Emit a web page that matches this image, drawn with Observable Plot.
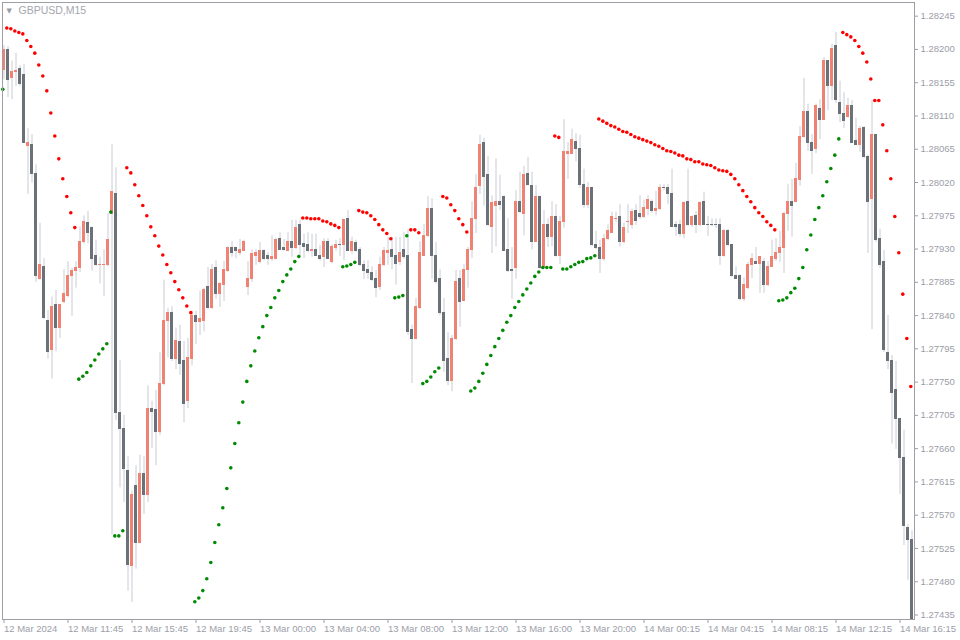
<!DOCTYPE html>
<html><head><meta charset="utf-8">
<script src="https://cdn.jsdelivr.net/npm/d3@7"></script>
<script src="https://cdn.jsdelivr.net/npm/@observablehq/plot@0.6"></script>
<style>
html,body{margin:0;padding:0;background:#ffffff;}
#chart{width:960px;height:640px;overflow:hidden;}
</style></head><body><div id="chart"></div>
<script>
const symbol = "GBPUSD,M15";

const open = [
1.28172,1.28199,1.28161,1.28169,1.28173,1.28166,1.28070,1.28071,1.28031,1.27890,
1.27906,1.27833,1.27794,1.27854,1.27823,1.27858,1.27866,1.27893,1.27900,1.27904,
1.27939,1.27965,1.27958,1.27921,1.27909,1.27909,1.27908,1.27978,1.28004,1.27708,
1.27687,1.27630,1.27501,1.27610,1.27533,1.27626,1.27597,1.27713,1.27712,1.27682,
1.27748,1.27832,1.27843,1.27781,1.27804,1.27778,1.27725,1.27781,1.27839,1.27831,
1.27833,1.27878,1.27850,1.27904,1.27869,1.27881,1.27900,1.27932,1.27931,1.27925,
1.27928,1.27878,1.27890,1.27920,1.27912,1.27928,1.27920,1.27916,1.27917,1.27943,
1.27932,1.27928,1.27940,1.27931,1.27962,1.27937,1.27936,1.27927,1.27929,1.27921,
1.27919,1.27940,1.27912,1.27932,1.27936,1.27936,1.27970,1.27928,1.27938,1.27929,
1.27909,1.27901,1.27898,1.27889,1.27878,1.27908,1.27924,1.27929,1.27920,1.27912,
1.27929,1.27921,1.27820,1.27809,1.27850,1.27921,1.27947,1.27984,1.27921,1.27889,
1.27844,1.27781,1.27751,1.27808,1.27890,1.27860,1.27901,1.27929,1.27970,1.28015,
1.28073,1.28030,1.27960,1.27988,1.27994,1.28000,1.27929,1.27901,1.27904,1.27994,
1.27978,1.28031,1.28015,1.27940,1.28000,1.27905,1.27962,1.27946,1.27973,1.27920,
1.27966,1.28059,1.28059,1.28075,1.28065,1.28017,1.27990,1.28012,1.27936,1.27932,
1.27916,1.27943,1.27952,1.27970,1.27973,1.27939,1.27966,1.27963,1.27981,1.27977,
1.27974,1.27984,1.27994,1.27982,1.27984,1.28013,1.28013,1.28004,1.27963,1.27963,
1.27951,1.27993,1.27962,1.27975,1.27962,1.27993,1.27963,1.27963,1.27963,1.27962,
1.27920,1.27955,1.27935,1.27894,1.27893,1.27862,1.27877,1.27908,1.27913,1.27910,
1.27912,1.27881,1.27906,1.27916,1.27924,1.27932,1.27978,1.27993,1.27994,1.28024,
1.28081,1.28115,1.28073,1.28066,1.28119,1.28105,1.28184,1.28151,1.28204,1.28128,
1.28113,1.28108,1.28123,1.28076,1.28071,1.28094,1.28055,1.27998,1.28084,1.27943,
1.27913,1.27789,1.27778,1.27739,1.27700,1.27647,1.27553,1.27537];

const high = [
1.28205,1.28204,1.28184,1.28195,1.28178,1.28180,1.28093,1.28085,1.28044,1.27965,
1.27917,1.27847,1.27865,1.27874,1.27855,1.27902,1.27913,1.27904,1.27913,1.27960,
1.27975,1.27981,1.27960,1.27942,1.27919,1.27929,1.27978,1.28071,1.28040,1.27779,
1.27705,1.27649,1.27603,1.27637,1.27651,1.27649,1.27745,1.27724,1.27739,1.27790,
1.27888,1.27850,1.27852,1.27823,1.27827,1.27805,1.27809,1.27846,1.27846,1.27873,
1.27877,1.27905,1.27909,1.27914,1.27885,1.27913,1.27933,1.27940,1.27933,1.27943,
1.27942,1.27913,1.27929,1.27929,1.27939,1.27929,1.27925,1.27948,1.27944,1.27952,
1.27943,1.27952,1.27969,1.27969,1.27969,1.27950,1.27952,1.27950,1.27950,1.27935,
1.27944,1.27944,1.27936,1.27942,1.27944,1.27970,1.27982,1.27946,1.27942,1.27932,
1.27914,1.27914,1.27906,1.27901,1.27919,1.27932,1.27946,1.27946,1.27946,1.27946,
1.27952,1.27956,1.27827,1.27863,1.27940,1.27963,1.28001,1.27998,1.27939,1.27902,
1.27863,1.27817,1.27813,1.27901,1.27901,1.27909,1.27932,1.27994,1.28031,1.28084,
1.28080,1.28055,1.28002,1.28052,1.28030,1.28002,1.27971,1.27932,1.28009,1.28034,
1.28042,1.28054,1.28034,1.28016,1.28002,1.27982,1.27971,1.27994,1.27990,1.27974,
1.28105,1.28074,1.28092,1.28086,1.28084,1.28038,1.28020,1.28013,1.27954,1.27942,
1.27950,1.27963,1.27980,1.27980,1.27990,1.27965,1.27990,1.27984,1.27990,1.28002,
1.27996,1.28002,1.27996,1.28008,1.28017,1.28017,1.28017,1.28038,1.27967,1.27969,
1.27994,1.28038,1.27975,1.27981,1.27994,1.28007,1.27974,1.27971,1.27971,1.27971,
1.27957,1.27957,1.27936,1.27906,1.27895,1.27891,1.27912,1.27924,1.27932,1.27920,
1.27917,1.27913,1.27942,1.27944,1.27954,1.27980,1.28017,1.28024,1.28046,1.28096,
1.28161,1.28126,1.28085,1.28126,1.28132,1.28189,1.28185,1.28207,1.28223,1.28157,
1.28142,1.28134,1.28131,1.28107,1.28096,1.28096,1.28057,1.28131,1.28085,1.27957,
1.27928,1.27840,1.27786,1.27778,1.27701,1.27685,1.27557,1.27549];

const low = [
1.28159,1.28135,1.28132,1.28150,1.28150,1.28073,1.28004,1.28019,1.27885,1.27888,
1.27835,1.27781,1.27754,1.27791,1.27809,1.27856,1.27864,1.27839,1.27877,1.27898,
1.27937,1.27937,1.27900,1.27906,1.27883,1.27866,1.27906,1.27543,1.27698,1.27607,
1.27587,1.27467,1.27452,1.27497,1.27532,1.27571,1.27587,1.27660,1.27637,1.27678,
1.27745,1.27783,1.27778,1.27767,1.27759,1.27695,1.27714,1.27772,1.27801,1.27813,
1.27818,1.27848,1.27848,1.27862,1.27851,1.27859,1.27898,1.27919,1.27917,1.27921,
1.27927,1.27867,1.27885,1.27908,1.27910,1.27914,1.27908,1.27913,1.27916,1.27928,
1.27927,1.27927,1.27919,1.27929,1.27919,1.27917,1.27925,1.27919,1.27920,1.27914,
1.27905,1.27916,1.27910,1.27927,1.27920,1.27914,1.27927,1.27923,1.27925,1.27906,
1.27889,1.27889,1.27886,1.27864,1.27874,1.27906,1.27908,1.27902,1.27881,1.27908,
1.27916,1.27813,1.27748,1.27808,1.27848,1.27920,1.27946,1.27889,1.27883,1.27840,
1.27763,1.27745,1.27737,1.27806,1.27824,1.27859,1.27877,1.27917,1.27951,1.28004,
1.27988,1.27960,1.27924,1.27933,1.27982,1.27927,1.27898,1.27862,1.27889,1.27978,
1.27948,1.28015,1.27929,1.27939,1.27902,1.27904,1.27932,1.27933,1.27919,1.27909,
1.27958,1.28024,1.28058,1.28048,1.28012,1.27985,1.27985,1.27933,1.27929,1.27897,
1.27913,1.27941,1.27951,1.27966,1.27933,1.27937,1.27951,1.27957,1.27962,1.27970,
1.27971,1.27975,1.27978,1.27975,1.27982,1.28009,1.27990,1.27959,1.27947,1.27946,
1.27944,1.27960,1.27959,1.27951,1.27960,1.27962,1.27947,1.27960,1.27958,1.27908,
1.27919,1.27933,1.27892,1.27889,1.27860,1.27859,1.27875,1.27890,1.27909,1.27870,
1.27870,1.27879,1.27905,1.27913,1.27912,1.27897,1.27954,1.27946,1.27993,1.28015,
1.28080,1.28062,1.28031,1.28059,1.28078,1.28104,1.28117,1.28131,1.28127,1.28101,
1.28093,1.28107,1.28073,1.28070,1.28061,1.28052,1.27924,1.27821,1.27939,1.27904,
1.27790,1.27767,1.27666,1.27659,1.27598,1.27529,1.27482,1.27428];

const close = [
1.28199,1.28159,1.28169,1.28171,1.28153,1.28074,1.28073,1.28032,1.27894,1.27908,
1.27837,1.27791,1.27852,1.27823,1.27854,1.27869,1.27894,1.27900,1.27905,1.27940,
1.27967,1.27952,1.27917,1.27908,1.27909,1.27909,1.27942,1.28007,1.27708,1.27687,
1.27632,1.27502,1.27597,1.27533,1.27626,1.27597,1.27714,1.27710,1.27683,1.27748,
1.27832,1.27844,1.27781,1.27805,1.27775,1.27720,1.27782,1.27840,1.27831,1.27836,
1.27874,1.27850,1.27901,1.27869,1.27883,1.27902,1.27932,1.27925,1.27927,1.27929,
1.27939,1.27890,1.27923,1.27925,1.27928,1.27916,1.27917,1.27919,1.27942,1.27929,
1.27929,1.27940,1.27931,1.27959,1.27935,1.27933,1.27927,1.27929,1.27921,1.27917,
1.27940,1.27917,1.27933,1.27936,1.27935,1.27969,1.27928,1.27939,1.27928,1.27908,
1.27900,1.27897,1.27888,1.27877,1.27909,1.27927,1.27928,1.27919,1.27910,1.27924,
1.27919,1.27818,1.27808,1.27851,1.27924,1.27948,1.27984,1.27920,1.27885,1.27844,
1.27778,1.27751,1.27809,1.27886,1.27858,1.27902,1.27929,1.27971,1.28013,1.28071,
1.28028,1.27962,1.27992,1.27994,1.27989,1.27928,1.27900,1.27900,1.27994,1.27980,
1.28030,1.28016,1.27939,1.28000,1.27904,1.27962,1.27946,1.27974,1.27920,1.27967,
1.28061,1.28061,1.28077,1.28066,1.28016,1.27990,1.28012,1.27935,1.27931,1.27917,
1.27944,1.27955,1.27973,1.27971,1.27939,1.27959,1.27967,1.27980,1.27968,1.27974,
1.27985,1.27996,1.27982,1.27984,1.28013,1.28012,1.28004,1.27960,1.27960,1.27951,
1.27992,1.27962,1.27974,1.27962,1.27992,1.27963,1.27962,1.27962,1.27962,1.27921,
1.27955,1.27935,1.27893,1.27890,1.27863,1.27881,1.27909,1.27916,1.27910,1.27919,
1.27881,1.27906,1.27919,1.27925,1.27932,1.27977,1.27994,1.27988,1.28025,1.28082,
1.28115,1.28073,1.28063,1.28123,1.28105,1.28185,1.28151,1.28200,1.28132,1.28113,
1.28103,1.28123,1.28074,1.28071,1.28092,1.28054,1.27993,1.28084,1.27942,1.27908,
1.27793,1.27778,1.27735,1.27700,1.27647,1.27555,1.27537,1.27429];

// Parabolic SAR value per bar
const sar = [
1.28146,1.28229,1.28228,1.28225,1.28223,1.28221,1.28212,1.28204,1.28195,1.28179,
1.28164,1.28144,1.28114,1.28083,1.28052,1.28025,1.28001,1.27979,1.27959,1.27754,
1.27758,1.27763,1.27772,1.27780,1.27788,1.27795,1.27802,1.27980,1.27542,1.27542,
1.27549,1.28040,1.28033,1.28017,1.28002,1.27989,1.27975,1.27960,1.27948,1.27934,
1.27922,1.27909,1.27898,1.27886,1.27875,1.27864,1.27853,1.27844,1.27453,1.27458,
1.27468,1.27484,1.27506,1.27533,1.27557,1.27580,1.27606,1.27634,1.27667,1.27695,
1.27723,1.27751,1.27772,1.27792,1.27810,1.27825,1.27840,1.27851,1.27864,1.27874,
1.27886,1.27895,1.27903,1.27913,1.27920,1.27972,1.27972,1.27971,1.27971,1.27971,
1.27968,1.27967,1.27964,1.27962,1.27959,1.27906,1.27907,1.27909,1.27912,1.27982,
1.27980,1.27979,1.27975,1.27970,1.27963,1.27956,1.27951,1.27944,1.27864,1.27865,
1.27867,1.27948,1.27956,1.27956,1.27952,1.27748,1.27751,1.27757,1.27764,1.27769,
1.28001,1.27999,1.27990,1.27982,1.27971,1.27963,1.27953,1.27738,1.27742,1.27751,
1.27762,1.27774,1.27786,1.27798,1.27809,1.27820,1.27831,1.27840,1.27851,1.27859,
1.27868,1.27876,1.27884,1.27893,1.27899,1.27905,1.27905,1.27905,1.28083,1.28081,
1.27903,1.27903,1.27906,1.27909,1.27912,1.27913,1.27917,1.27918,1.27921,1.28106,
1.28103,1.28100,1.28097,1.28095,1.28092,1.28089,1.28088,1.28085,1.28082,1.28080,
1.28078,1.28076,1.28074,1.28071,1.28069,1.28066,1.28063,1.28062,1.28060,1.28057,
1.28056,1.28052,1.28051,1.28048,1.28048,1.28045,1.28044,1.28043,1.28040,1.28037,
1.28036,1.28035,1.28031,1.28025,1.28017,1.28009,1.28001,1.27994,1.27986,1.27979,
1.27974,1.27967,1.27962,1.27956,1.27860,1.27861,1.27864,1.27871,1.27877,1.27890,
1.27905,1.27929,1.27949,1.27970,1.27986,1.28002,1.28021,1.28039,1.28057,1.28079,
1.28223,1.28220,1.28217,1.28212,1.28204,1.28195,1.28183,1.28160,1.28131,1.28131,
1.28098,1.28063,1.28025,1.27974,1.27925,1.27869,1.27809,1.27744];

// SAR trend runs: [direction, number of bars]
const sarRuns = [["up",1],["down",18],["up",12],["down",17],["up",27],["down",10],["up",4],
  ["down",9],["up",4],["down",3],["up",5],["down",7],["up",21],["down",2],["up",9],
  ["down",45],["up",16],["down",18]];

const priceTicks = [1.27435,1.27480,1.27525,1.27570,1.27615,1.27660,1.27705,1.27750,1.27795,
  1.27840,1.27885,1.27930,1.27975,1.28020,1.28065,1.28110,1.28155,1.28200,1.28245];

const timeTickBars = [0,16,32,48,64,80,96,112,128,144,160,176,192,208,224];
const timeTickLabels = ["12 Mar 2024","12 Mar 11:45","12 Mar 15:45","12 Mar 19:45","13 Mar 00:00",
  "13 Mar 04:00","13 Mar 08:00","13 Mar 12:00","13 Mar 16:00","13 Mar 20:00","14 Mar 00:15",
  "14 Mar 04:15","14 Mar 08:15","14 Mar 12:15","14 Mar 16:15"];

const sarTrend = sarRuns.flatMap(([t, n]) => Array(n).fill(t));
const bars = open.map((o, i) => ({i, open: o, high: high[i], low: low[i], close: close[i],
  bull: close[i] >= o, sar: sar[i], trend: sarTrend[i]}));
const labelOf = new Map(timeTickBars.map((b, j) => [b, timeTickLabels[j]]));

const BULL = "#f08273", BEAR = "#6b7179", WICK = "#c8ccd5", TXT = "#9b9ea7", FRAME = "#9d9fa4";

const chart = Plot.plot({
  width: 960, height: 640,
  marginLeft: 2, marginRight: 46, marginTop: 2, marginBottom: 21,
  x: {type: "linear", domain: [-0.375, 227.625], label: null},
  y: {domain: [1.274289, 1.282635], label: null},
  color: {type: "identity"},
  style: {background: "#ffffff", fontFamily: "'Liberation Sans', Arial, sans-serif", fontSize: "9.5px", color: TXT},
  marks: [
    Plot.ruleX(bars, {x: "i", y1: "low", y2: "high", stroke: WICK, strokeWidth: 1}),
    Plot.rect(bars, {x1: d => d.i - 0.375, x2: d => d.i + 0.375, y1: "open", y2: "close",
      fill: d => d.bull ? BULL : BEAR, insetTop: -0.5, insetBottom: -0.5, shapeRendering: "crispEdges"}),
    Plot.dot(bars, {x: "i", y: "sar", fill: d => d.trend === "up" ? "#008a00" : "#ff0000",
      r: 1.8, dx: -1.2, stroke: "none"}),
    Plot.axisY({anchor: "right", ticks: priceTicks, tickFormat: d3.format(".5f"), tickSize: 3,
      tickPadding: 3, color: TXT, stroke: FRAME, label: null}),
    Plot.axisX({anchor: "bottom", ticks: timeTickBars, tickFormat: d => labelOf.get(d), tickSize: 4,
      tickPadding: 2, textAnchor: "start", dx: 0, color: TXT, stroke: FRAME, label: null}),
    Plot.frame({stroke: FRAME, shapeRendering: "crispEdges"}),
    Plot.text([symbol], {frameAnchor: "top-left", dx: 16, dy: 4, textAnchor: "start", lineAnchor: "top",
      fill: "#a3a6ae", fontSize: 10.5}),
    Plot.text(["\u25BC"], {frameAnchor: "top-left", dx: 4, dy: 6, textAnchor: "start", lineAnchor: "top",
      fill: "#9a9ca3", fontSize: 7, fontFamily: "DejaVu Sans"})
  ]
});
document.getElementById("chart").appendChild(chart);
</script>
</body></html>
